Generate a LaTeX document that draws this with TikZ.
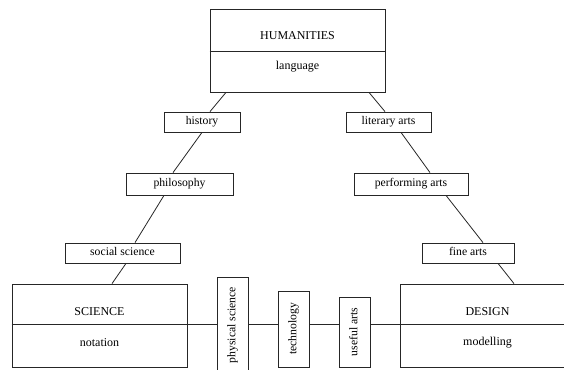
\documentclass[tikz,border=0pt]{standalone}
\usepackage{fontspec}
\setmainfont{Liberation Serif}
\begin{document}
\begin{tikzpicture}[x=1pt,y=-1pt,
  ln/.style={line width=0.8pt, draw=black!85},
  txt/.style={font=\fontsize{12}{14}\selectfont, inner sep=0pt, text=black},
  lbl/.style={ln, draw, rectangle, inner sep=0pt, minimum height=20pt, minimum width=#1,
              font=\fontsize{11.7}{13}\selectfont, text height=8pt, text depth=2.5pt, text=black},
  big/.style={ln, draw, rectangle, minimum width=175pt, minimum height=83pt, inner sep=0pt},
  vbox/.style={ln, draw, rectangle, minimum width=31pt, minimum height=#1, inner sep=0pt},
  vtxt/.style={font=\fontsize{11.7}{13}\selectfont, inner sep=0pt, text=black, rotate=90, text height=8pt, text depth=2.5pt}]
\clip (0,0) rectangle (564,369);
% big boxes
\node[big] (hum) at (297.5,50.5) {};
\node[big] (sci) at (99.5,325.5) {};
\node[big] (des) at (487.5,325.5) {};
\draw[ln] (hum.west |- 0,51) -- (hum.east |- 0,51);
\draw[ln] (sci.west |- 0,324) -- (sci.east |- 0,324);
\draw[ln] (des.west |- 0,324) -- (des.east |- 0,324);
\node[txt, anchor=base] (humT) at (297.5,39.5) {HUMANITIES};
\node[txt, anchor=base] (humL) at (297.5,70) {language};
\node[txt, anchor=base] (sciT) at (99.5,315) {SCIENCE};
\node[txt, anchor=base] (sciL) at (99.5,346) {notation};
\node[txt, anchor=base] (desT) at (487.5,315) {DESIGN};
\node[txt, anchor=base] (desL) at (487.5,345) {modelling};
% small label boxes
\node[lbl=76pt] (hist) at (202,122) {history};
\node[lbl=85pt] (lit) at (388.5,122) {literary arts};
\node[lbl=107pt, minimum height=22pt] (phil) at (179.5,184) {philosophy};
\node[lbl=114pt, minimum height=22pt] (perf) at (411,184) {performing arts};
\node[lbl=115pt] (soc) at (122.5,253) {social science};
\node[lbl=92pt] (fine) at (468,253) {fine arts};
% vertical boxes
\node[vbox=96pt] (phys) at (232.5,325) {};
\node[vbox=76pt] (tech) at (293.5,329) {};
\node[vbox=70pt] (use) at (354.5,332) {};
\node[vtxt] (physT) at (phys.center) {physical science};
\node[vtxt] (techT) at (tech.center) {technology};
\node[vtxt] (useT) at (use.center) {useful arts};
% left diagonal chain
\draw[ln] ([xshift=-71.5pt]hum.south) -- ([xshift=8pt]hist.north);
\draw[ln] (hist.south) -- ([xshift=-6.5pt]phil.north);
\draw[ln] ([xshift=-15.5pt]phil.south) -- ([xshift=12.5pt]soc.north);
\draw[ln] ([xshift=3.5pt]soc.south) -- ([xshift=12.5pt]sci.north);
% right diagonal chain
\draw[ln] ([xshift=71.5pt]hum.south) -- ([xshift=-3.5pt]lit.north);
\draw[ln] ([xshift=12.5pt]lit.south) -- ([xshift=19pt]perf.north);
\draw[ln] ([xshift=35pt]perf.south) -- ([xshift=15pt]fine.north);
\draw[ln] ([xshift=30pt]fine.south) -- ([xshift=26.5pt]des.north);
% horizontal chain
\draw[ln] (sci.east |- 0,324) -- (phys.west |- 0,324);
\draw[ln] (phys.east |- 0,324) -- (tech.west |- 0,324);
\draw[ln] (tech.east |- 0,324) -- (use.west |- 0,324);
\draw[ln] (use.east |- 0,324) -- (des.west |- 0,324);
\end{tikzpicture}
\end{document}
